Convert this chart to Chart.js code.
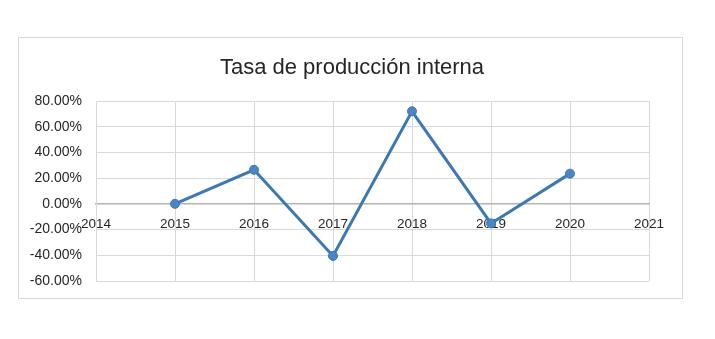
<!DOCTYPE html>
<html>
<head>
<meta charset="utf-8">
<script src="https://cdn.jsdelivr.net/npm/chart.js@4.4.0/dist/chart.umd.min.js"></script>
<style>
  html, body { margin: 0; padding: 0; background: #ffffff; }
  #wrap { position: relative; width: 715px; height: 339px; }
  #frame { position: absolute; left: 18px; top: 37px; width: 665px; height: 262px; border: 1px solid #d9d9d9; box-sizing: border-box; }
  #c { position: absolute; left: 0; top: 0; }
</style>
</head>
<body>
<div id="wrap">
  <div id="frame"></div>
  <canvas id="c" width="715" height="339"></canvas>
</div>
<script>
const titleText = 'Tasa de producción interna';
const years = [2015, 2016, 2017, 2018, 2019, 2020];
const rates = [0.0, 0.265, -0.405, 0.72, -0.152, 0.235];
const xMin = 2014, xMax = 2021;
const yMin = -0.6, yMax = 0.8, yStep = 0.2;

const points = years.map((y, i) => ({ x: y, y: rates[i] }));

new Chart(document.getElementById('c'), {
  type: 'line',
  data: {
    datasets: [{
      data: points,
      borderColor: '#3C78B2',
      borderWidth: 3,
      pointBackgroundColor: '#4A86C5',
      pointBorderColor: '#3C78B2',
      pointBorderWidth: 1,
      pointRadius: 4.5,
      tension: 0,
      fill: false
    }]
  },
  options: {
    responsive: false,
    animation: false,
    layout: { padding: { left: 20, right: 31, top: 0, bottom: 58 } },
    plugins: {
      legend: { display: false },
      tooltip: { enabled: false },
      title: {
        display: true,
        text: titleText,
        color: '#262626',
        font: { family: 'Liberation Sans, Arial, sans-serif', size: 22, weight: 'normal', lineHeight: 1.2 },
        padding: { top: 54.3, bottom: 20.3 }
      }
    },
    scales: {
      x: {
        type: 'linear',
        position: { y: 0 },
        min: xMin,
        max: xMax,
        ticks: {
          stepSize: 1,
          padding: 12,
          color: '#262626',
          font: { family: 'Liberation Sans, Arial, sans-serif', size: 13.5 },
          callback: v => String(v),
          maxRotation: 0
        },
        grid: { color: '#d9d9d9', lineWidth: 1, drawTicks: false },
        border: { display: true, color: '#b3b3b3', width: 1.5 }
      },
      y: {
        type: 'linear',
        position: 'left',
        min: yMin,
        max: yMax,
        afterFit: s => { s.width = 76; },
        ticks: {
          stepSize: yStep,
          padding: 14,
          color: '#262626',
          font: { family: 'Liberation Sans, Arial, sans-serif', size: 14 },
          callback: v => (Math.round(v * 10000) / 100).toFixed(2) + '%'
        },
        grid: { color: '#d9d9d9', lineWidth: 1, drawTicks: false },
        border: { display: true, color: '#d9d9d9', width: 1 }
      },
      ySpacer: {
        type: 'linear',
        position: 'right',
        display: true,
        afterFit: s => { s.width = 35; },
        ticks: { display: false },
        grid: { display: false, drawTicks: false },
        border: { display: false }
      }
    }
  }
});
</script>
</body>
</html>
